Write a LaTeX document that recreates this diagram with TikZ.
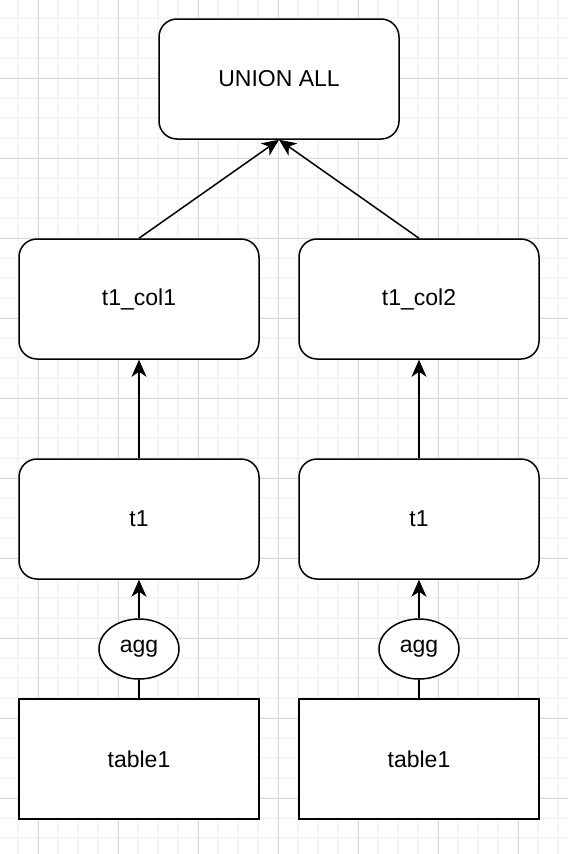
\documentclass[tikz,border=0pt]{standalone}
\usepackage{fontspec}
\setmainfont{Liberation Sans}
\usetikzlibrary{shapes.geometric,arrows.meta}
\begin{document}
\begin{tikzpicture}[x=1pt,y=-1pt,
  box/.style={draw=black,line width=1.5pt,rounded corners=18pt,minimum width=240pt,minimum height=120pt,inner sep=0pt,font=\fontsize{23}{27}\selectfont},
  sharpbox/.style={draw=black,line width=1.5pt,minimum width=240pt,minimum height=120pt,inner sep=0pt,font=\fontsize{23}{27}\selectfont},
  oval/.style={draw=black,line width=1.5pt,ellipse,minimum width=80pt,minimum height=60pt,inner sep=0pt,font=\fontsize{23}{27}\selectfont},
  conn/.style={line width=1.5pt,-{Stealth[length=17pt,width=15pt,inset=5pt]}},
  plain/.style={line width=1.5pt}]
\useasboundingbox (0,0) rectangle (568,854);
\fill[white] (0,0) rectangle (568,854);
% grid
\foreach \x in {18,38,...,558} \draw[line width=1.5pt,gray!8] (\x,0) -- (\x,854);
\foreach \y in {18,38,...,838} \draw[line width=1.5pt,gray!8] (0,\y) -- (568,\y);
\foreach \x in {38,118,...,558} \draw[line width=0.9pt,gray!30] (\x,0) -- (\x,854);
\foreach \y in {78,158,...,838} \draw[line width=0.9pt,gray!30] (0,\y) -- (568,\y);
% nodes
\node[box,fill=white] (union) at (279,79) {UNION ALL};
\node[box,fill=white] (col1) at (139,299) {t1\_col1};
\node[box,fill=white] (col2) at (419,299) {t1\_col2};
\node[box,fill=white] (t1a) at (139,519) {t1};
\node[box,fill=white] (t1b) at (419,519) {t1};
\node[oval,fill=white] (agga) at (139,649) {agg};
\node[oval,fill=white] (aggb) at (419,649) {agg};
\node[sharpbox,fill=white] (taba) at (139,759) {table1};
\node[sharpbox,fill=white] (tabb) at (419,759) {table1};
% connectors
\draw[plain] (taba.north) -- (agga.south);
\draw[plain] (tabb.north) -- (aggb.south);
\draw[conn] (agga.north) -- (t1a.south);
\draw[conn] (aggb.north) -- (t1b.south);
\draw[conn] (t1a.north) -- (col1.south);
\draw[conn] (t1b.north) -- (col2.south);
\draw[conn] (col1.north) -- (union.south);
\draw[conn] (col2.north) -- (union.south);
\end{tikzpicture}
\end{document}
